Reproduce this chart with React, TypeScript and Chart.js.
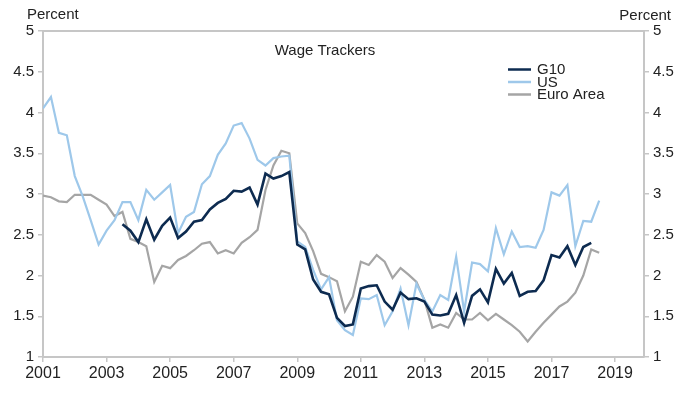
import React, { useEffect, useRef } from "react";
import { Chart, registerables } from "chart.js";

Chart.register(...registerables);

// Quarterly observations starting 2001 Q1
const startYear = 2001;
const quarterStep = 0.25;

const seriesNames = ["G10", "US", "Euro Area"];

const g10 = [
  null, null, null, null, null, null, null, null, null, null,
  2.63, 2.55, 2.41, 2.69, 2.44, 2.61, 2.71, 2.46, 2.54, 2.66,
  2.68, 2.81, 2.89, 2.94, 3.04, 3.03, 3.08, 2.87, 3.25, 3.19,
  3.22, 3.27, 2.38, 2.32, 1.95, 1.8, 1.77, 1.48, 1.38, 1.4,
  1.84, 1.87, 1.88, 1.68, 1.58, 1.79, 1.71, 1.72, 1.68, 1.52,
  1.51, 1.53, 1.76, 1.42, 1.75, 1.83, 1.67, 2.08, 1.9, 2.03,
  1.75, 1.8, 1.81, 1.94, 2.25, 2.22, 2.36, 2.13, 2.35, 2.4,
  null,
];

const us = [
  4.05, 4.19, 3.75, 3.72, 3.22, 2.97, 2.68, 2.38, 2.55, 2.68,
  2.9, 2.9, 2.68, 3.05, 2.93, 3.02, 3.11, 2.52, 2.72, 2.78,
  3.12, 3.22, 3.48, 3.62, 3.84, 3.87, 3.68, 3.42, 3.35, 3.44,
  3.46, 3.47, 2.42, 2.35, 2.07, 1.83, 1.98, 1.45, 1.33, 1.27,
  1.72, 1.71, 1.76, 1.39, 1.56, 1.84, 1.39, 1.9, 1.7, 1.56,
  1.76, 1.7, 2.23, 1.56, 2.16, 2.14, 2.05, 2.58, 2.26, 2.54,
  2.35, 2.36, 2.34, 2.56, 3.02, 2.98, 3.11, 2.36, 2.67, 2.66,
  2.92,
];

const euroArea = [
  2.98, 2.96, 2.91, 2.9, 2.99, 2.99, 2.99, 2.93, 2.87, 2.73,
  2.78, 2.45, 2.41, 2.36, 1.92, 2.12, 2.09, 2.19, 2.24, 2.31,
  2.39, 2.41, 2.27, 2.31, 2.27, 2.4, 2.47, 2.56, 3.05, 3.35,
  3.53, 3.5, 2.64, 2.52, 2.3, 2.02, 1.98, 1.93, 1.56, 1.74,
  2.17, 2.13, 2.25, 2.17, 1.97, 2.09, 2.01, 1.92, 1.7, 1.36,
  1.4, 1.36, 1.54, 1.46, 1.46, 1.54, 1.45, 1.53, 1.46, 1.39,
  1.31, 1.19, 1.31, 1.42, 1.52, 1.62, 1.68, 1.79, 2.0, 2.32,
  2.28,
];

const xTickYears = [2001, 2003, 2005, 2007, 2009, 2011, 2013, 2015, 2017, 2019];
const yTicks = [1, 1.5, 2, 2.5, 3, 3.5, 4, 4.5, 5];

const colors = ["#0d2b50", "#9ec8ea", "#a5a5a5"];
const widths = [2.6, 2.2, 2.2];

const FONT = "'Liberation Sans', Arial, sans-serif";
const AXIS_COLOR = "#c6c6c6";
const TEXT_COLOR = "#222222";

const toPoints = (arr: (number | null)[]) =>
  arr.map((v, i) => ({ x: startYear + i * quarterStep, y: v }));

const decorPlugin = {
  id: "decor",
  afterDraw(chart: any) {
    const { ctx, chartArea } = chart;
    ctx.save();
    // top border
    ctx.strokeStyle = AXIS_COLOR;
    ctx.lineWidth = 2;
    ctx.beginPath();
    ctx.moveTo(chartArea.left, chartArea.top);
    ctx.lineTo(chartArea.right, chartArea.top);
    ctx.stroke();

    ctx.fillStyle = TEXT_COLOR;
    ctx.font = `15px ${FONT}`;
    ctx.textBaseline = "middle";
    ctx.textAlign = "left";
    ctx.fillText("Percent", 27, 15);
    ctx.textAlign = "right";
    ctx.fillText("Percent", 671, 16);

    // title
    ctx.textAlign = "center";
    ctx.fillText("Wage Trackers", 325, 51);

    // legend
    ctx.textAlign = "left";
    chart.data.datasets.forEach((ds: any, i: number) => {
      const y = 69.5 + i * 12.5;
      ctx.strokeStyle = ds.borderColor;
      ctx.lineWidth = 2.5;
      ctx.beginPath();
      ctx.moveTo(508, y);
      ctx.lineTo(531, y);
      ctx.stroke();
      ctx.fillStyle = TEXT_COLOR;
      ctx.fillText(ds.label, 537, y + 0.5);
    });
    ctx.restore();
  },
};

export default function App() {
  const canvasRef = useRef<HTMLCanvasElement | null>(null);

  useEffect(() => {
    document.body.style.margin = "0";
    const canvas = canvasRef.current;
    if (!canvas) return;
    const seriesData = [g10, us, euroArea];
    const yAxisCommon = (position: "left" | "right", width: number) => ({
      type: "linear" as const,
      position,
      min: 1,
      max: 5,
      afterBuildTicks: (axis: any) => {
        axis.ticks = yTicks.map((v) => ({ value: v }));
      },
      afterFit: (scale: any) => {
        scale.width = width;
      },
      grid: {
        drawOnChartArea: false,
        drawTicks: true,
        tickLength: 5,
        color: AXIS_COLOR,
        lineWidth: 1.5,
      },
      border: { display: true, color: AXIS_COLOR, width: 2 },
      ticks: {
        padding: 4,
        color: TEXT_COLOR,
        font: { family: FONT, size: 15 },
        callback: (v: any) => String(v),
      },
    });

    const chart = new Chart(canvas, {
      type: "line",
      data: {
        datasets: seriesNames.map((name, i) => ({
          label: name,
          data: toPoints(seriesData[i]),
          borderColor: colors[i],
          backgroundColor: colors[i],
          borderWidth: widths[i],
          pointRadius: 0,
          tension: 0,
          fill: false,
          spanGaps: false,
        })),
      },
      options: {
        animation: false,
        responsive: false,
        maintainAspectRatio: false,
        layout: { padding: { top: 31, left: 0, right: 0, bottom: 0 } },
        plugins: {
          legend: { display: false },
          title: { display: false },
          tooltip: { enabled: false },
        },
        scales: {
          x: {
            type: "linear",
            position: "bottom",
            min: 2001,
            max: 2019.91,
            afterBuildTicks: (axis: any) => {
              axis.ticks = xTickYears.map((v) => ({ value: v }));
            },
            afterFit: (scale: any) => {
              scale.height = 36;
            },
            grid: {
              drawOnChartArea: false,
              drawTicks: true,
              tickLength: 5,
              color: AXIS_COLOR,
              lineWidth: 1.5,
            },
            border: { display: true, color: AXIS_COLOR, width: 2 },
            ticks: {
              padding: 2,
              maxRotation: 0,
              autoSkip: false,
              color: TEXT_COLOR,
              font: { family: FONT, size: 16 },
              callback: (v: any) => String(v),
            },
          },
          y: yAxisCommon("left", 43),
          y2: yAxisCommon("right", 40),
        },
      },
      plugins: [decorPlugin],
    });
    return () => chart.destroy();
  }, []);

  return (
    <div style={{ position: "absolute", left: 0, top: 0, width: 684, height: 393, background: "#fff" }}>
      <canvas ref={canvasRef} width={684} height={393} />
    </div>
  );
}
